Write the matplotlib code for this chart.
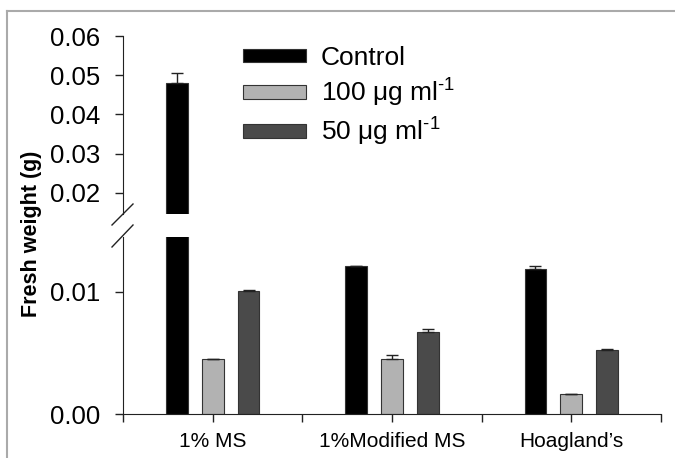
import matplotlib
matplotlib.use('agg')
import matplotlib.pyplot as plt
from matplotlib.lines import Line2D
import numpy as np

plt.rcParams['font.family'] = ['Liberation Sans', 'DejaVu Sans']
plt.rcParams['mathtext.fontset'] = 'custom'
plt.rcParams['mathtext.rm'] = 'Liberation Sans'
plt.rcParams['mathtext.default'] = 'regular'

# data
media = ['1% MS', '1%Modified MS', 'Hoagland\u2019s']
series = ['Control', '100 \u03bcg ml$^{\\text{-1}}$', '50 \u03bcg ml$^{\\text{-1}}$']
control = [0.0481, 0.0121, 0.0119]
dose100 = [0.00448, 0.00453, 0.00161]
dose50 = [0.0101, 0.00670, 0.00527]
err_control = [0.0025, 0.00003, 0.00025]
err_100 = [0.00003, 0.00028, 0.00003]
err_50 = [0.00003, 0.00027, 0.00003]

colors = ['#000000', '#b2b2b2', '#4a4a4a']
W, H = 675, 458

fig = plt.figure(figsize=(W / 100, H / 100), dpi=100)

def fx(px):
    return px / W

def fy(py):
    return 1 - py / H

left, right = fx(123), fx(661)
ax_lo = fig.add_axes([left, fy(414), right - left, fy(237) - fy(414)])
ax_hi = fig.add_axes([left, fy(214), right - left, fy(36) - fy(214)])

x = np.arange(len(media))
width = 0.122
step = 0.2
vals = [control, dose100, dose50]
errs = [err_control, err_100, err_50]

for ax in (ax_lo, ax_hi):
    for i, (v, e) in enumerate(zip(vals, errs)):
        ax.bar(x + (i - 1) * step, v, width, color=colors[i], edgecolor='#333333',
               linewidth=0.8, label=series[i],
               yerr=[np.zeros(len(e)), e], capsize=4.5,
               error_kw=dict(ecolor='#222222', elinewidth=1, capthick=1))
    ax.set_xlim(-0.5, 2.5)
    for s in ['top', 'right']:
        ax.spines[s].set_visible(False)
    ax.spines['left'].set_color('#222222')
    ax.spines['bottom'].set_color('#222222')
    ax.tick_params(axis='y', direction='out', length=6, width=1, labelsize=18.5,
                   pad=10.5, color='#222222')

ax_lo.set_ylim(0, 0.0145)
ax_lo.set_yticks([0.0, 0.01])
ax_lo.set_yticklabels(['0.00', '0.01'])
ax_lo.set_xticks(x)
ax_lo.set_xticks([-0.5, 0.5, 1.5, 2.5], minor=True)
ax_lo.set_xticklabels(media, fontsize=15)
ax_lo.tick_params(axis='x', which='both', direction='out', length=6, width=1,
                  color='#222222', pad=7)

ax_hi.set_ylim(0.0146, 0.06)
ax_hi.set_yticks([0.02, 0.03, 0.04, 0.05, 0.06])
ax_hi.set_yticklabels(['0.02', '0.03', '0.04', '0.05', '0.06'])
ax_hi.spines['bottom'].set_visible(False)
ax_hi.set_xticks([])

# axis break marks
for y0, y1 in [(225, 204), (247, 225)]:
    fig.add_artist(Line2D([fx(112), fx(133)], [fy(y0), fy(y1)], color='#222222', lw=1))

fig.text(fx(32), fy(234), 'Fresh weight (g)', rotation=90, fontsize=15.5,
         fontweight='bold', ha='center', va='center')

h, l = ax_hi.get_legend_handles_labels()
ax_hi.legend(h, l, loc='upper left', bbox_to_anchor=(fx(243), fy(46)),
             bbox_transform=fig.transFigure, frameon=False, fontsize=19,
             borderpad=0, borderaxespad=0, handlelength=2.4, handleheight=0.42,
             handletextpad=0.55, labelspacing=0.25)

# image border (top and left)
fig.add_artist(Line2D([fx(7), 1], [fy(11), fy(11)], color='#aaaaaa', lw=1.5))
fig.add_artist(Line2D([fx(7), fx(7)], [0, fy(11)], color='#aaaaaa', lw=1.5))

fig.savefig('out.png', dpi=100)
plt.close(fig)
